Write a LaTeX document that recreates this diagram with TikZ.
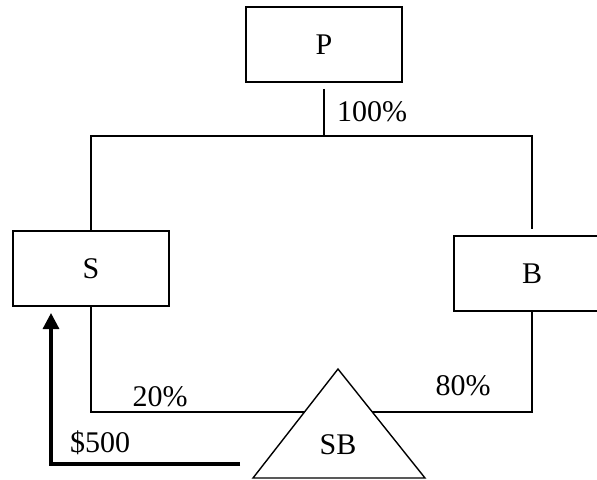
\documentclass[tikz,border=0pt]{standalone}
\usepackage{fontspec}
\setmainfont{Liberation Serif}
\usetikzlibrary{arrows.meta}
\tikzstyle{entity}=[draw,line width=0.9pt,minimum width=78pt,minimum height=37.5pt,inner sep=0pt]
\tikzstyle{share}=[inner sep=0pt]

\begin{document}
\begin{tikzpicture}[x=0.5pt, y=0.5pt, line width=0.7pt, font=\fontsize{15}{18}\selectfont]
      \clip (0,0) rectangle (597,479);
      \node[entity] (P) at (324, 434.5) {P};
      \node[entity] (S) at (91, 210.5) {S};
      \node[entity] (B) at (532, 205.5) {B};
      \coordinate (apex) at (338, 110);
      \coordinate (bl) at (253, 1);
      \coordinate (br) at (425, 1);
      \draw (bl) -- (apex) -- (br) -- cycle;
      \node[share] (SB) at (338, 34) {SB};
      \coordinate (j) at (324, 343);
      \coordinate (tl) at (304.5, 67);
      \coordinate (tr) at (372.3, 67);
      \coordinate (cash) at (240, 15);
      \coordinate (tip) at (51, 166);
      \draw ([yshift=-3pt]P.south) -- (j);
      \draw (S.north) |- (j) -| ([yshift=3pt]B.north);
      \draw (S.south) |- (tl);
      \draw (B.south) |- (tr);
      \draw[line width=1.6pt, -{Triangle[width=8pt,length=8pt]}] (cash) -| (tip);
      \node[share] (l100) at (372, 367) {100\%};
      \node[share] (l20) at (160, 82) {20\%};
      \node[share] (l80) at (463, 93) {80\%};
      \node[share] (l500) at (100, 36) {\$500};
    \end{tikzpicture}
\end{document}
